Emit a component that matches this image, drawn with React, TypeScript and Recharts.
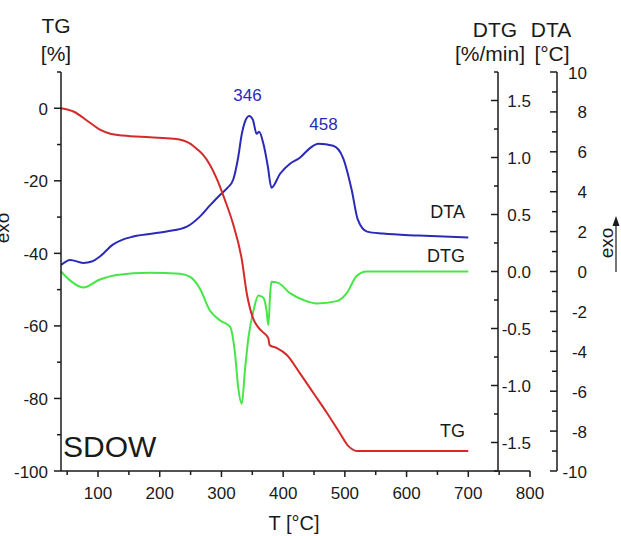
import React from 'react';
import { LineChart, Line, XAxis, YAxis } from 'recharts';

// temperatures (°C) and readings
const tgTemps = [40, 60, 87, 103, 120, 140, 184, 222, 238, 250, 260, 270, 281, 293, 305, 319, 333, 341, 351, 360, 367, 376, 378, 390, 406, 427, 449, 471, 492, 505, 512, 519, 530, 600, 700];
const tgValues = [0, -0.9, -4, -5.9, -7, -7.5, -8, -8.4, -8.9, -9.8, -11.2, -12.8, -15.5, -19.7, -25, -32, -41.7, -51, -57.8, -60.5, -61.7, -63.4, -65.3, -66.1, -68, -73, -78.5, -84, -89.6, -93, -94, -94.5, -94.5, -94.5, -94.5];

const dtgTemps = [40, 55, 76, 103, 130, 184, 233, 250, 265, 281, 298, 314, 322, 327, 333, 338, 344, 352, 360, 368, 373, 376, 379, 381, 392, 411, 433, 454, 487, 503, 519, 535, 600, 700];
const dtgValues = [0, -0.08, -0.14, -0.07, -0.03, -0.01, -0.02, -0.05, -0.15, -0.34, -0.43, -0.485, -0.72, -1.01, -1.16, -0.87, -0.57, -0.34, -0.21, -0.23, -0.34, -0.47, -0.19, -0.09, -0.1, -0.19, -0.25, -0.28, -0.26, -0.19, -0.04, 0, 0, 0];

const dtaTemps = [40, 55, 76, 90, 103, 124, 140, 157, 211, 244, 265, 281, 298, 310, 319, 327, 333, 338, 345, 351, 357, 361, 368, 375, 381, 395, 411, 427, 444, 457, 481, 497, 511, 521, 536, 562, 620, 700];
const dtaValues = [0.33, 0.58, 0.43, 0.5, 0.75, 1.35, 1.6, 1.75, 2.0, 2.25, 2.75, 3.3, 3.85, 4.2, 4.6, 5.7, 6.9, 7.5, 7.8, 7.6, 6.9, 7.0, 6.4, 5.3, 4.2, 4.9, 5.4, 5.7, 6.2, 6.4, 6.3, 5.7, 4.1, 2.6, 2.0, 1.9, 1.8, 1.7];

const xTicks = [50, 100, 150, 200, 250, 300, 350, 400, 450, 500, 550, 600, 650, 700, 750, 800];
const tgTicks = [-100, -90, -80, -70, -60, -50, -40, -30, -20, -10, 0, 10];
const dtgTicks = [-1.75, -1.5, -1.25, -1, -0.75, -0.5, -0.25, 0, 0.25, 0.5, 0.75, 1, 1.25, 1.5, 1.75];
const dtaTicks = [-10, -9, -8, -7, -6, -5, -4, -3, -2, -1, 0, 1, 2, 3, 4, 5, 6, 7, 8, 9, 10];

const FONT = '"Liberation Sans", Arial, Helvetica, sans-serif';
const INK = '#1a1a1a';
const RED = '#d42a2a';
const BLUE = '#2a2ab8';
const GREEN = '#45e645';

const W = 621;
const H = 536;

// axis ids: the right-hand axes get stacked by id
const DTG_ID = 'r1';
const DTA_ID = 'r2';

const tgData = tgTemps.map((t, i) => ({ t, v: tgValues[i] }));
const dtgData = dtgTemps.map((t, i) => ({ t, v: dtgValues[i] }));
const dtaData = dtaTemps.map((t, i) => ({ t, v: dtaValues[i] }));

const XTick = (props: any) => {
  const { x, y, payload } = props;
  const major = payload.value % 100 === 0;
  return (
    <g>
      <line x1={x} x2={x} y1={y} y2={y + (major ? 6 : 4)} stroke={INK} strokeWidth={1.5} />
      {major && (
        <text x={x} y={y + 27.5} textAnchor="middle" fontSize={17} fontFamily={FONT} fill={INK}>
          {payload.value}
        </text>
      )}
    </g>
  );
};

const TgTick = (props: any) => {
  const { x, y, payload } = props;
  const major = payload.value % 20 === 0;
  return (
    <g>
      <line x1={x - (major ? 7 : 4)} x2={x} y1={y} y2={y} stroke={INK} strokeWidth={1.5} />
      {major && (
        <text x={x - 13} y={y + 6.5} textAnchor="end" fontSize={17} fontFamily={FONT} fill={INK}>
          {payload.value}
        </text>
      )}
    </g>
  );
};

const DtgTick = (props: any) => {
  const { x, y, payload } = props;
  const v = payload.value as number;
  const major = Math.abs(v * 2 - Math.round(v * 2)) < 1e-6;
  return (
    <g>
      <line x1={x - (major ? 7 : 4)} x2={x} y1={y} y2={y} stroke={INK} strokeWidth={1.5} />
      {major && (
        <text x={x + 33} y={y + 6.5} textAnchor="end" fontSize={17} fontFamily={FONT} fill={INK}>
          {v.toFixed(1)}
        </text>
      )}
    </g>
  );
};

const DtaTick = (props: any) => {
  const { x, y, payload } = props;
  const major = payload.value % 2 === 0;
  return (
    <g>
      <line x1={x - (major ? 7 : 5)} x2={x} y1={y} y2={y} stroke={INK} strokeWidth={1.5} />
      {major && (
        <text x={x + 30} y={y + 6.5} textAnchor="end" fontSize={17} fontFamily={FONT} fill={INK}>
          {payload.value}
        </text>
      )}
    </g>
  );
};

const axisLine = { stroke: INK, strokeWidth: 1.5 };

const App: React.FC = () => {
  return (
    <div style={{ position: 'absolute', left: 0, top: 0, width: W, height: H, background: '#fff', fontFamily: FONT }}>
      {/* main plot: x axis, TG axis and the three curves */}
      <div style={{ position: 'absolute', left: 0, top: 0 }}>
        <LineChart width={W} height={H} margin={{ top: 72, right: 91, bottom: 0, left: 0 }}>
          <XAxis
            type="number"
            dataKey="t"
            domain={[40, 800]}
            ticks={xTicks}
            interval={0}
            allowDataOverflow
            height={65}
            tickSize={0}
            tickMargin={0}
            tickLine={false}
            axisLine={axisLine}
            tick={<XTick />}
          />
          <YAxis
            yAxisId="tg"
            type="number"
            domain={[-100, 10]}
            ticks={tgTicks}
            interval={0}
            allowDataOverflow
            width={61}
            tickSize={0}
            tickMargin={0}
            tickLine={false}
            axisLine={axisLine}
            tick={<TgTick />}
          />
          <YAxis yAxisId={DTG_ID} orientation="right" type="number" domain={[-1.75, 1.75]} allowDataOverflow hide width={0} />
          <YAxis yAxisId={DTA_ID} orientation="right" type="number" domain={[-10, 10]} allowDataOverflow hide width={0} />
          <Line data={dtaData} dataKey="v" yAxisId={DTA_ID} type="monotone" stroke={BLUE} strokeWidth={2} dot={false} isAnimationActive={false} />
          <Line data={dtgData} dataKey="v" yAxisId={DTG_ID} type="monotone" stroke={GREEN} strokeWidth={2} dot={false} isAnimationActive={false} />
          <Line data={tgData} dataKey="v" yAxisId="tg" type="monotone" stroke={RED} strokeWidth={2} dot={false} isAnimationActive={false} />
        </LineChart>
      </div>

      {/* the DTG and DTA axes stand further in, so they get their own layer */}
      <div style={{ position: 'absolute', left: 0, top: 0 }}>
        <LineChart width={W} height={H} margin={{ top: 72, right: 0, bottom: 65, left: 0 }}>
          <XAxis type="number" dataKey="t" domain={[40, 800]} hide />
          <YAxis
            yAxisId={DTG_ID}
            orientation="right"
            type="number"
            domain={[-1.75, 1.75]}
            ticks={dtgTicks}
            interval={0}
            allowDataOverflow
            width={59}
            tickSize={0}
            tickMargin={0}
            tickLine={false}
            axisLine={axisLine}
            tick={<DtgTick />}
          />
          <YAxis
            yAxisId={DTA_ID}
            orientation="right"
            type="number"
            domain={[-10, 10]}
            ticks={dtaTicks}
            interval={0}
            allowDataOverflow
            width={64}
            tickSize={0}
            tickMargin={0}
            tickLine={false}
            axisLine={axisLine}
            tick={<DtaTick />}
          />
          <Line data={dtgData} dataKey="v" yAxisId={DTG_ID} stroke="none" dot={false} isAnimationActive={false} />
        </LineChart>
      </div>

      {/* titles and annotations */}
      <svg width={W} height={H} style={{ position: 'absolute', left: 0, top: 0, pointerEvents: 'none' }}>
        <g fontFamily={FONT} fill={INK}>
          <text x={56} y={33} fontSize={21} textAnchor="middle">TG</text>
          <text x={56} y={61} fontSize={21} textAnchor="middle">[%]</text>
          <text x={495} y={37} fontSize={21} textAnchor="middle">DTG</text>
          <text x={490} y={61} fontSize={21} textAnchor="middle">[%/min]</text>
          <text x={551} y={37} fontSize={21} textAnchor="middle">DTA</text>
          <text x={552} y={61} fontSize={21} textAnchor="middle">[°C]</text>
          <text x={294} y={530} fontSize={20} textAnchor="middle">T [°C]</text>
          <text x={63} y={457} fontSize={30}>SDOW</text>
          <text x={465} y={217.5} fontSize={18} textAnchor="end">DTA</text>
          <text x={465} y={261.5} fontSize={18} textAnchor="end">DTG</text>
          <text x={465} y={437} fontSize={18} textAnchor="end">TG</text>
          <text x={613} y={243} fontSize={19} textAnchor="middle" transform="rotate(-90 613 243)">exo</text>
          <text x={9} y={228} fontSize={19} textAnchor="middle" transform="rotate(-90 9 228)">exo</text>
        </g>
        <line x1={616} x2={616} y1={272} y2={224} stroke={INK} strokeWidth={1.2} />
        <polygon points="616,216 612.5,226 619.5,226" fill={INK} />
        <g fontFamily={FONT} fill={BLUE} fontSize={17} textAnchor="middle">
          <text x={247.5} y={101}>346</text>
          <text x={323.5} y={130}>458</text>
        </g>
      </svg>
    </div>
  );
};

export default App;
